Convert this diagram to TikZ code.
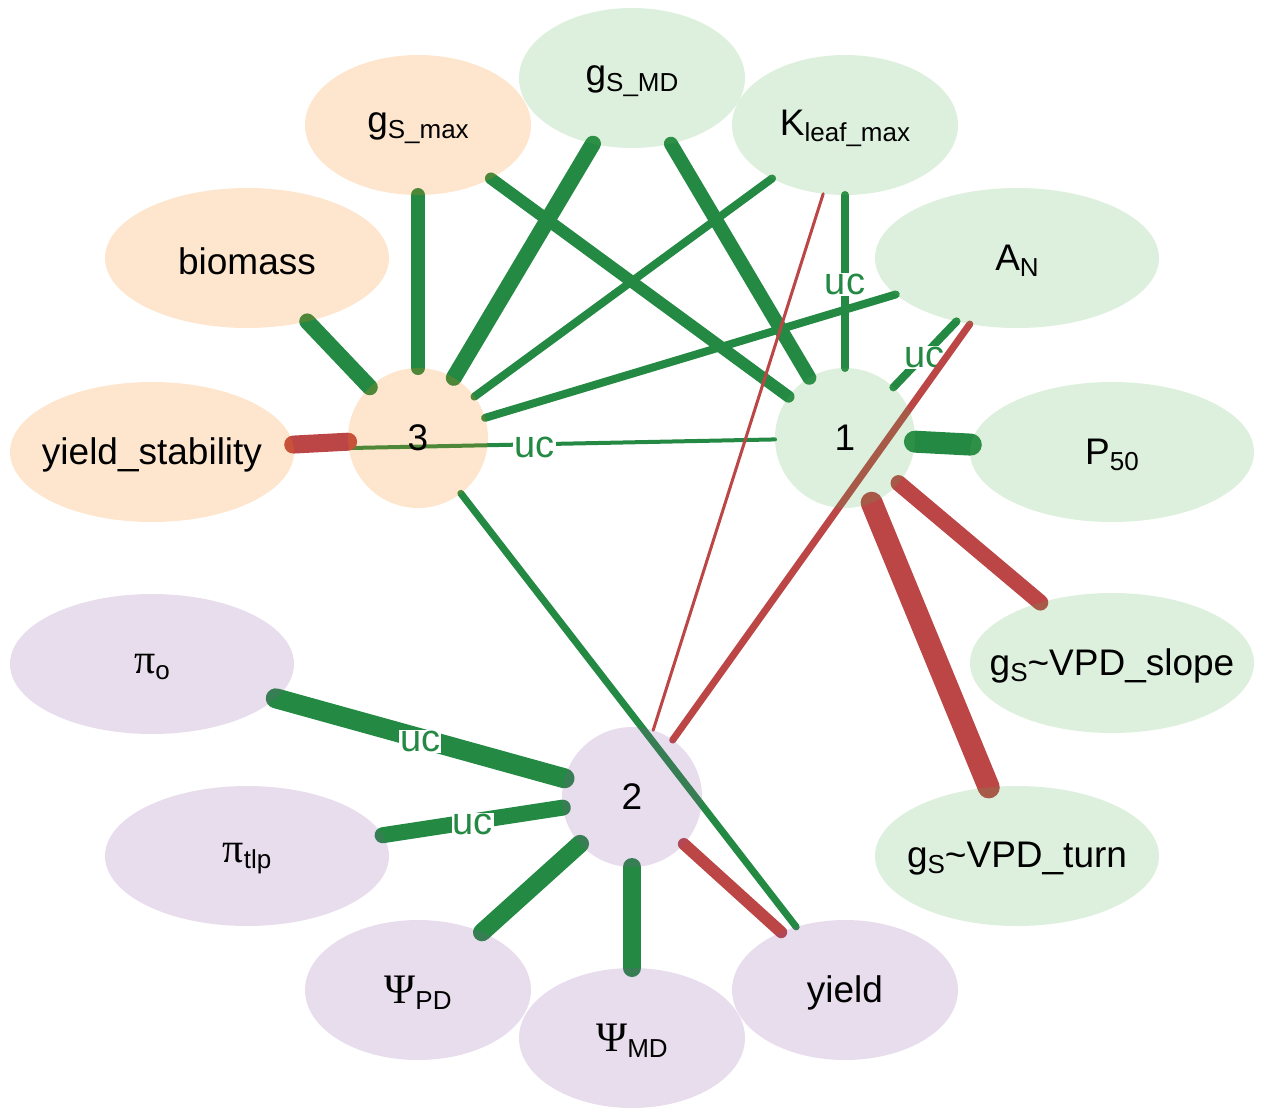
\documentclass[tikz,border=0pt]{standalone}
\usepackage{fontspec}
\setmainfont{Liberation Sans}
\newfontfamily\grkfont{Liberation Serif}
\usetikzlibrary{shapes.geometric}
\pgfdeclarelayer{edges}
\pgfsetlayers{edges,main}
\definecolor{posgreen}{RGB}{35,137,67}
\definecolor{negred}{RGB}{188,69,69}
\definecolor{orangefill}{RGB}{250,130,10}
\definecolor{greenfill}{RGB}{85,175,85}
\definecolor{purplefill}{RGB}{140,85,160}
\newcommand{\tname}[1]{\makebox[0pt]{\raisebox{-1.5pt}[\height][\depth]{#1}}}
\newcommand{\sbs}[1]{\raisebox{-0.16em}{\fontsize{13}{13}\selectfont #1}}
\newcommand{\grk}[1]{{\grkfont\fontsize{21}{22}\selectfont #1}}
\begin{document}
\begin{tikzpicture}[
    x=0.5pt, y=-0.5pt,
    trait/.style={ellipse, fill opacity=0.2, text opacity=1, inner sep=0pt, outer sep=0pt,
        minimum width=113pt, minimum height=70pt, font=\fontsize{18.5}{22}\selectfont},
    widetrait/.style={trait, minimum width=142pt},
    hub/.style={circle, fill opacity=0.2, text opacity=1, inner sep=0pt, outer sep=0pt,
        minimum size=70pt, font=\fontsize{18.5}{22}\selectfont},
    posedge/.style={draw=posgreen, line cap=round},
    negedge/.style={draw=negred, line cap=round},
    uc/.style={fill=white, text=posgreen, inner sep=0.5pt, yshift=-1.5pt,
        font=\fontsize{19}{20}\selectfont}
]
\useasboundingbox (0,0) rectangle (1263,1115);

% group 3
\node (c3) [hub, fill=orangefill] at (418,438) {3};
\node (gsmax) [trait, fill=orangefill] at (418,125) {\tname{g\sbs{S\_max}}};
\node (biomass) [widetrait, fill=orangefill] at (247,258) {\tname{biomass}};
\node (ystab) [widetrait, fill=orangefill] at (152,452) {\tname{yield\_stability}};

% group 1
\node (c1) [hub, fill=greenfill] at (845,438) {1};
\node (gsmd) [trait, fill=greenfill] at (632,78) {\tname{g\sbs{S\_MD}}};
\node (kleaf) [trait, fill=greenfill] at (845,125) {\tname{K\sbs{leaf\_max}}};
\node (an) [widetrait, fill=greenfill] at (1017,258) {\tname{A\sbs{N}}};
\node (p50) [widetrait, fill=greenfill] at (1112,452) {\tname{P\sbs{50}}};
\node (slope) [widetrait, fill=greenfill] at (1112,663) {\tname{g\sbs{S}\textasciitilde VPD\_slope}};
\node (turn) [widetrait, fill=greenfill] at (1017,856) {\tname{g\sbs{S}\textasciitilde VPD\_turn}};

% group 2
\node (c2) [hub, fill=purplefill] at (632,797) {2};
\node (pio) [widetrait, fill=purplefill] at (152,664) {\tname{\grk{π}\sbs{o}}};
\node (pitlp) [widetrait, fill=purplefill] at (247,856) {\tname{\grk{π}\sbs{tlp}}};
\node (psipd) [trait, fill=purplefill] at (418,990) {\tname{\grk{Ψ}\sbs{PD}}};
\node (psimd) [trait, fill=purplefill] at (632,1038) {\tname{\grk{Ψ}\sbs{MD}}};
\node (yield) [trait, fill=purplefill] at (845,990) {\tname{yield}};

\begin{pgfonlayer}{edges}
% positive
\draw [posedge, line width=8pt] (biomass) -- (c3);
\draw [posedge, line width=7pt] (gsmax) -- (c3);
\draw [posedge, line width=8pt] (gsmd) -- (c3);
\draw [posedge, line width=4pt] (kleaf) -- (c3);
\draw [posedge, line width=4pt] (an) -- (c3);
\draw [posedge, line width=2pt] (ystab) -- node[uc] {uc} (c1);
\draw [posedge, line width=3.5pt] (c3) -- (yield);
\draw [posedge, line width=6pt] (gsmax) -- (c1);
\draw [posedge, line width=7pt] (gsmd) -- (c1);
\draw [posedge, line width=4pt] (kleaf) -- node[uc] {uc} (c1);
\draw [posedge, line width=4pt] (an) -- node[uc] {uc} (c1);
\draw [posedge, line width=11pt] (p50) -- (c1);
\draw [posedge, line width=10pt] (pio) -- node[uc] {uc} (c2);
\draw [posedge, line width=8pt] (pitlp) -- node[uc] {uc} (c2);
\draw [posedge, line width=9pt] (psipd) -- (c2);
\draw [posedge, line width=9pt] (psimd) -- (c2);
% negative
\draw [negedge, line width=9pt] (ystab) -- (c3);
\draw [negedge, line width=8pt] (slope) -- (c1);
\draw [negedge, line width=11pt] (turn) -- (c1);
\draw [negedge, line width=1.5pt] (kleaf) -- (c2);
\draw [negedge, line width=3.5pt] (an) -- (c2);
\draw [negedge, line width=6pt] (yield) -- (c2);
\end{pgfonlayer}
\end{tikzpicture}
\end{document}
